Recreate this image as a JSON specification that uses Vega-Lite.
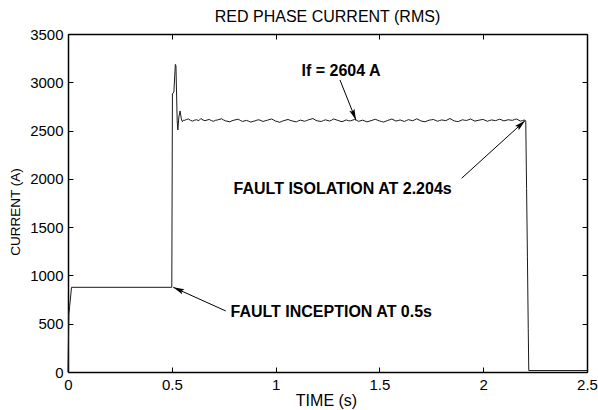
{
  "$schema": "https://vega.github.io/schema/vega-lite/v6.json",
  "width": 519,
  "height": 338,
  "autosize": {"type": "none"},
  "padding": {"left": 68, "top": 34, "right": 11, "bottom": 38},
  "background": "white",
  "config": {
    "font": "Liberation Sans",
    "view": {"stroke": null},
    "axis": {
      "grid": false,
      "domainColor": "black",
      "domainWidth": 1.5,
      "tickColor": "black",
      "tickWidth": 1,
      "tickSize": -5,
      "labelFont": "Liberation Sans",
      "labelFontSize": 15,
      "labelColor": "black",
      "labelPadding": 10,
      "titleFont": "Liberation Sans",
      "titleFontWeight": "normal",
      "titleColor": "black"
    }
  },
  "title": {
    "text": "RED PHASE CURRENT (RMS)",
    "font": "Liberation Sans",
    "fontSize": 16,
    "fontWeight": "normal",
    "color": "black",
    "anchor": "middle",
    "offset": 2
  },
  "datasets": {
    "current": [
      {"t": 0, "i": 0},
      {"t": 0.001, "i": 150},
      {"t": 0.004, "i": 600},
      {"t": 0.008, "i": 680},
      {"t": 0.017, "i": 877},
      {"t": 0.5, "i": 877},
      {"t": 0.503, "i": 2880},
      {"t": 0.51, "i": 2900},
      {"t": 0.517, "i": 3185},
      {"t": 0.52, "i": 3170},
      {"t": 0.526, "i": 2600},
      {"t": 0.529, "i": 2506},
      {"t": 0.534, "i": 2640},
      {"t": 0.54, "i": 2703},
      {"t": 0.546, "i": 2620},
      {"t": 0.551, "i": 2592},
      {"t": 0.556, "i": 2608},
      {"t": 0.56, "i": 2605},
      {"t": 0.57, "i": 2614},
      {"t": 0.58, "i": 2620},
      {"t": 0.59, "i": 2606},
      {"t": 0.60, "i": 2598},
      {"t": 0.61, "i": 2608},
      {"t": 0.62, "i": 2612},
      {"t": 0.63, "i": 2602},
      {"t": 0.64, "i": 2625},
      {"t": 0.65, "i": 2610},
      {"t": 0.66, "i": 2603},
      {"t": 0.68, "i": 2615},
      {"t": 0.69, "i": 2604},
      {"t": 0.70, "i": 2596},
      {"t": 0.71, "i": 2606},
      {"t": 0.72, "i": 2610},
      {"t": 0.74, "i": 2622},
      {"t": 0.75, "i": 2609},
      {"t": 0.76, "i": 2600},
      {"t": 0.78, "i": 2590},
      {"t": 0.79, "i": 2602},
      {"t": 0.80, "i": 2608},
      {"t": 0.82, "i": 2618},
      {"t": 0.83, "i": 2605},
      {"t": 0.84, "i": 2595},
      {"t": 0.86, "i": 2605},
      {"t": 0.87, "i": 2597},
      {"t": 0.88, "i": 2588},
      {"t": 0.90, "i": 2600},
      {"t": 0.91, "i": 2608},
      {"t": 0.92, "i": 2612},
      {"t": 0.94, "i": 2594},
      {"t": 0.95, "i": 2602},
      {"t": 0.96, "i": 2607},
      {"t": 0.98, "i": 2620},
      {"t": 0.99, "i": 2610},
      {"t": 1.00, "i": 2598},
      {"t": 1.02, "i": 2586},
      {"t": 1.03, "i": 2596},
      {"t": 1.04, "i": 2603},
      {"t": 1.06, "i": 2615},
      {"t": 1.07, "i": 2606},
      {"t": 1.08, "i": 2600},
      {"t": 1.10, "i": 2590},
      {"t": 1.11, "i": 2601},
      {"t": 1.12, "i": 2608},
      {"t": 1.14, "i": 2596},
      {"t": 1.15, "i": 2605},
      {"t": 1.16, "i": 2612},
      {"t": 1.18, "i": 2625},
      {"t": 1.19, "i": 2611},
      {"t": 1.20, "i": 2601},
      {"t": 1.22, "i": 2594},
      {"t": 1.23, "i": 2604},
      {"t": 1.24, "i": 2611},
      {"t": 1.26, "i": 2599},
      {"t": 1.27, "i": 2608},
      {"t": 1.28, "i": 2620},
      {"t": 1.30, "i": 2605},
      {"t": 1.31, "i": 2598},
      {"t": 1.32, "i": 2592},
      {"t": 1.34, "i": 2610},
      {"t": 1.35, "i": 2603},
      {"t": 1.36, "i": 2600},
      {"t": 1.38, "i": 2615},
      {"t": 1.39, "i": 2606},
      {"t": 1.40, "i": 2596},
      {"t": 1.42, "i": 2608},
      {"t": 1.43, "i": 2599},
      {"t": 1.44, "i": 2590},
      {"t": 1.46, "i": 2603},
      {"t": 1.47, "i": 2610},
      {"t": 1.48, "i": 2617},
      {"t": 1.50, "i": 2600},
      {"t": 1.51, "i": 2594},
      {"t": 1.52, "i": 2588},
      {"t": 1.54, "i": 2605},
      {"t": 1.55, "i": 2612},
      {"t": 1.56, "i": 2620},
      {"t": 1.58, "i": 2598},
      {"t": 1.59, "i": 2604},
      {"t": 1.60, "i": 2610},
      {"t": 1.62, "i": 2594},
      {"t": 1.63, "i": 2604},
      {"t": 1.64, "i": 2613},
      {"t": 1.66, "i": 2602},
      {"t": 1.67, "i": 2611},
      {"t": 1.68, "i": 2622},
      {"t": 1.70, "i": 2600},
      {"t": 1.71, "i": 2595},
      {"t": 1.72, "i": 2591},
      {"t": 1.74, "i": 2608},
      {"t": 1.75, "i": 2611},
      {"t": 1.76, "i": 2615},
      {"t": 1.78, "i": 2597},
      {"t": 1.79, "i": 2604},
      {"t": 1.80, "i": 2610},
      {"t": 1.82, "i": 2603},
      {"t": 1.83, "i": 2614},
      {"t": 1.84, "i": 2625},
      {"t": 1.86, "i": 2600},
      {"t": 1.87, "i": 2596},
      {"t": 1.88, "i": 2593},
      {"t": 1.90, "i": 2612},
      {"t": 1.91, "i": 2607},
      {"t": 1.92, "i": 2605},
      {"t": 1.94, "i": 2620},
      {"t": 1.95, "i": 2608},
      {"t": 1.96, "i": 2598},
      {"t": 1.98, "i": 2608},
      {"t": 1.99, "i": 2612},
      {"t": 2.00, "i": 2615},
      {"t": 2.02, "i": 2596},
      {"t": 2.03, "i": 2604},
      {"t": 2.04, "i": 2610},
      {"t": 2.06, "i": 2603},
      {"t": 2.07, "i": 2611},
      {"t": 2.08, "i": 2618},
      {"t": 2.10, "i": 2600},
      {"t": 2.11, "i": 2606},
      {"t": 2.12, "i": 2612},
      {"t": 2.14, "i": 2606},
      {"t": 2.15, "i": 2613},
      {"t": 2.16, "i": 2620},
      {"t": 2.18, "i": 2598},
      {"t": 2.19, "i": 2604},
      {"t": 2.20, "i": 2610},
      {"t": 2.205, "i": 2598},
      {"t": 2.209, "i": 1900},
      {"t": 2.213, "i": 1200},
      {"t": 2.217, "i": 450},
      {"t": 2.2195, "i": 15},
      {"t": 2.5, "i": 15}
    ],
    "arrows": [
      {"label": "a1", "t0": 1.31, "i0": 3024, "t1": 1.387, "i1": 2609},
      {"label": "a2", "t0": 1.896, "i0": 2006, "t1": 2.2013, "i1": 2602},
      {"label": "a3", "t0": 0.76, "i0": 632, "t1": 0.507, "i1": 877}
    ],
    "notes": [
      {"text": "If = 2604 A", "t": 1.315, "i": 3065},
      {"text": "FAULT ISOLATION AT 2.204s", "t": 1.323, "i": 1843},
      {"text": "FAULT INCEPTION AT 0.5s", "t": 1.268, "i": 573}
    ]
  },
  "layer": [
    {
      "data": {"name": "current"},
      "mark": {"type": "line", "color": "#1a1a1a", "strokeWidth": 1, "interpolate": "linear"},
      "encoding": {
        "x": {
          "field": "t", "type": "quantitative",
          "scale": {"domain": [0, 2.5], "nice": false, "zero": false},
          "axis": {
            "orient": "bottom",
            "values": [0, 0.5, 1, 1.5, 2, 2.5],
            "format": "~g",
            "labelFlush": false,
            "title": "TIME (s)",
            "titleFontSize": 16,
            "titleX": 258,
            "titleY": 33,
            "titleAlign": "center",
            "titleBaseline": "alphabetic"
          }
        },
        "y": {
          "field": "i", "type": "quantitative",
          "scale": {"domain": [0, 3500], "nice": false},
          "axis": {
            "orient": "left",
            "values": [0, 500, 1000, 1500, 2000, 2500, 3000, 3500],
            "format": "d",
            "labelFlush": false,
            "title": "CURRENT (A)",
            "titleFontSize": 13.5,
            "titleAngle": -90,
            "titleX": -48.7,
            "titleY": 177.5,
            "titleAlign": "center",
            "titleBaseline": "alphabetic"
          }
        }
      }
    },
    {
      "data": {"name": "arrows"},
      "mark": {"type": "rule", "color": "black", "strokeWidth": 1},
      "encoding": {
        "x": {
          "field": "t0", "type": "quantitative",
          "axis": {
            "orient": "top",
            "values": [0, 0.5, 1, 1.5, 2, 2.5],
            "labels": false,
            "title": null
          }
        },
        "y": {
          "field": "i0", "type": "quantitative",
          "axis": {
            "orient": "right",
            "values": [0, 500, 1000, 1500, 2000, 2500, 3000, 3500],
            "labels": false,
            "title": null
          }
        },
        "x2": {"field": "t1"},
        "y2": {"field": "i1"}
      }
    },
    {
      "data": {"name": "arrows"},
      "transform": [{"filter": {"field": "label", "equal": "a1"}}],
      "mark": {"type": "point", "shape": "M0,0L0.55,2.2L0,1.8L-0.55,2.2Z", "size": 100, "filled": true, "color": "black", "opacity": 1, "angle": 158.2},
      "encoding": {
        "x": {"field": "t1", "type": "quantitative", "axis": null},
        "y": {"field": "i1", "type": "quantitative", "axis": null}
      }
    },
    {
      "data": {"name": "arrows"},
      "transform": [{"filter": {"field": "label", "equal": "a2"}}],
      "mark": {"type": "point", "shape": "M0,0L0.55,2.2L0,1.8L-0.55,2.2Z", "size": 100, "filled": true, "color": "black", "opacity": 1, "angle": 47.7},
      "encoding": {
        "x": {"field": "t1", "type": "quantitative", "axis": null},
        "y": {"field": "i1", "type": "quantitative", "axis": null}
      }
    },
    {
      "data": {"name": "arrows"},
      "transform": [{"filter": {"field": "label", "equal": "a3"}}],
      "mark": {"type": "point", "shape": "M0,0L0.55,2.2L0,1.8L-0.55,2.2Z", "size": 100, "filled": true, "color": "black", "opacity": 1, "angle": 294.3},
      "encoding": {
        "x": {"field": "t1", "type": "quantitative", "axis": null},
        "y": {"field": "i1", "type": "quantitative", "axis": null}
      }
    },
    {
      "data": {"name": "notes"},
      "mark": {"type": "text", "font": "Liberation Sans", "fontSize": 16, "fontWeight": "bold", "color": "black", "align": "center", "baseline": "alphabetic"},
      "encoding": {
        "x": {"field": "t", "type": "quantitative", "axis": null},
        "y": {"field": "i", "type": "quantitative", "axis": null},
        "text": {"field": "text"}
      }
    }
  ],
  "resolve": {"axis": {"x": "independent", "y": "independent"}}
}
